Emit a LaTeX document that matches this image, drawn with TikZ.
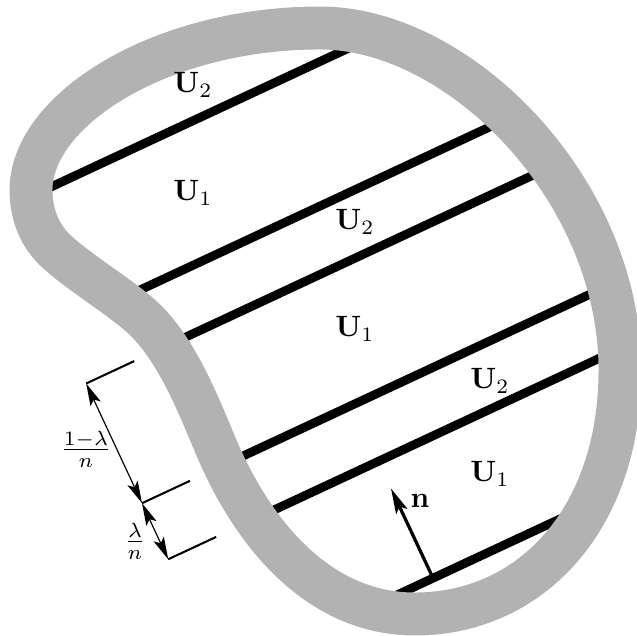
\documentclass[tikz,border=0pt]{standalone}
\usetikzlibrary{arrows.meta}
\begin{document}
\begin{tikzpicture}[x=0.34pt,y=-0.34pt,
  band/.style={draw=black!30,line width=14.6pt},
  stripe/.style={draw=black,line width=3pt},
  tick/.style={draw=black,line width=0.7pt},
  dimarrow/.style={draw=black,line width=0.4pt,{Stealth[length=7.6pt,width=3.8pt,inset=1.6pt]}-{Stealth[length=7.6pt,width=3.8pt,inset=1.6pt]}},
  normalarrow/.style={draw=black,line width=1.1pt,-{Stealth[length=8.6pt,width=4.2pt,inset=1.8pt]}},
  lab/.style={inner sep=0pt}]
\useasboundingbox (0,0) rectangle (637,636);
% stripes clipped to the region
\begin{scope}
\clip (31,190) .. controls (31,110) and (160,28) .. (320,28)
  .. controls (460,28) and (620,190) .. (620,370)
  .. controls (620,520) and (530,614) .. (415,614)
  .. controls (320,614) and (254.5,536.3) .. (217,449)
  .. controls (201.2,412.2) and (178.25,349.35) .. (141,316)
  .. controls (118.6,296) and (76.6,270.7) .. (55,250)
  .. controls (37,232.75) and (31,210) .. cycle;
\foreach \d in {191,322,384,516,578,707}
  \draw[stripe] ({0.4226*\d-0.9063*100},{0.9063*\d+0.4226*100}) -- ({0.4226*\d+0.9063*800},{0.9063*\d-0.4226*800});
\end{scope}
% boundary band
\draw[band] (31,190) .. controls (31,110) and (160,28) .. (320,28)
  .. controls (460,28) and (620,190) .. (620,370)
  .. controls (620,520) and (530,614) .. (415,614)
  .. controls (320,614) and (254.5,536.3) .. (217,449)
  .. controls (201.2,412.2) and (178.25,349.35) .. (141,316)
  .. controls (118.6,296) and (76.6,270.7) .. (55,250)
  .. controls (37,232.75) and (31,210) .. cycle;
% labels
\node[lab] (u2a) at (193,85) {$\mathbf{U}_2$};
\node[lab] (u1a) at (193,193) {$\mathbf{U}_1$};
\node[lab] (u2b) at (355,222) {$\mathbf{U}_2$};
\node[lab] (u1b) at (355,329) {$\mathbf{U}_1$};
\node[lab] (u2c) at (490,381) {$\mathbf{U}_2$};
\node[lab] (u1c) at (490,474) {$\mathbf{U}_1$};
% dimension marks
\coordinate (A) at (86.2,383.5);
\coordinate (A2) at (134.2,361.1);
\coordinate (B) at (142.0,503.2);
\coordinate (B2) at (190.0,480.8);
\coordinate (C) at (168.2,559.3);
\coordinate (C2) at (216.2,536.9);
\draw[tick] (A) -- (A2);
\draw[tick] (B) -- (B2);
\draw[tick] (C) -- (C2);
\draw[dimarrow] (A) -- (B);
\draw[dimarrow] (B) -- (C);
\node[lab] (f1) at (86,449) {$\frac{1-\lambda}{n}$};
\node[lab] (f2) at (135,541) {$\frac{\lambda}{n}$};
% normal vector
\coordinate (nb) at (433,578);
\coordinate (nt) at (391,488.5);
\draw[normalarrow] (nb) -- (nt);
\node[lab] (nl) at (420,501) {$\mathbf{n}$};
\end{tikzpicture}
\end{document}
